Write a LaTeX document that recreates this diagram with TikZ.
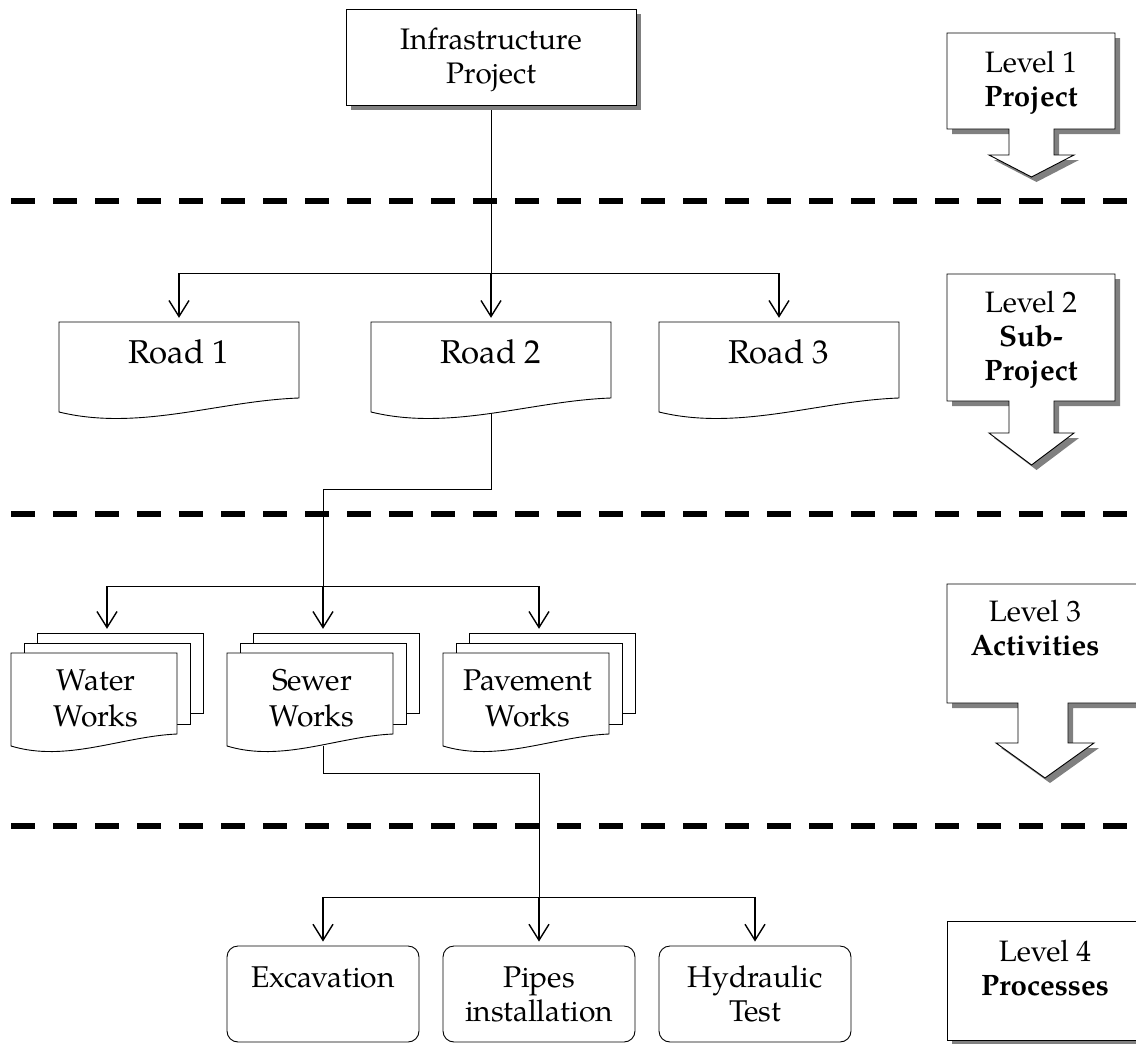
\documentclass[tikz,border=0pt]{standalone}
\usepackage{fontspec}
\setmainfont{texgyrepagella}[Extension=.otf, UprightFont=*-regular, BoldFont=*-bold, ItalicFont=*-italic, BoldItalicFont=*-bolditalic]
\usetikzlibrary{arrows.meta,shadows,fit,backgrounds}

% document sheet with a wavy lower edge; #5 is the bottom at the left side, #6 the wave rise
\newcommand\docshape[6]{%
  \node[fit={(#2,#3) (#4,#5)}, inner sep=0pt] (#1) {};
  \draw[outline, fill=white] (#2,#3) -- (#4,#3) -- (#4,{#5-#6})
    .. controls ({#2+2*(#4-#2)/3},{#5-0.8*#6}) and ({#2+(#4-#2)/3},{#5+1.4*#6}) .. (#2,#5) -- cycle;}

% stack of three sheets; #2,#3 front sheet top left, #4 front sheet bottom at the left side
\newcommand\stackshape[4]{%
  \node[fit={(#2,{#3-20}) ({#2+192},#4)}, inner sep=0pt] (#1) {};
  \draw[outline, fill=white] ({#2+26},{#3-20}) rectangle ({#2+192},{#3+60});
  \draw[outline, fill=white] ({#2+13},{#3-10}) rectangle ({#2+179},{#3+71});
  \draw[outline, fill=white] (#2,#3) -- ({#2+166},#3) -- ({#2+166},{#4-12})
    .. controls ({#2+110.7},{#4-9.6}) and ({#2+55.3},{#4+16.8}) .. (#2,#4) -- cycle;}

\begin{document}
\begin{tikzpicture}[x=1pt, y=-1pt,
  outline/.style={draw=black, line width=0.9pt, line join=miter},
  shade/.style={drop shadow={shadow xshift=5pt, shadow yshift=-5pt, fill=black!50, opacity=1}},
  box/.style={outline, fill=white, rectangle, inner sep=0pt},
  pbox/.style={outline, fill=white, rectangle, rounded corners=11pt, inner sep=0pt,
    minimum width=192, minimum height=96},
  conn/.style={line width=0.9pt},
  arr/.style={line width=1.5pt, shorten >=4pt,
    -{Straight Barb[length=16pt, width=20pt, line width=1.4pt]}},
  sep/.style={line width=6pt, dash pattern=on 24pt off 18pt},
  txt/.style={anchor=base, align=center, inner sep=0pt},
  big/.style={font=\fontsize{29.7}{34}\selectfont},
  road/.style={font=\fontsize{33}{36}\selectfont},
  work/.style={font=\fontsize{30}{36}\selectfont},
  proc/.style={font=\fontsize{30}{34}\selectfont},
  lvl/.style={font=\fontsize{29.5}{34}\selectfont},
]
\useasboundingbox (0,0) rectangle (1136,1044);
\clip (0,0) rectangle (1136,1044);

% level separators
\draw[sep] (11,201) -- (1127,201);
\draw[sep] (11,514) -- (1127,514);
\draw[sep] (11,826) -- (1127,826);

% level 1: project (text nodes are placed by the baseline of their last line)
\node[box, shade, minimum width=290, minimum height=96] (top) at (491,57) {};
\node[txt, big] (top-t) at (491,83) {Infrastructure\\Project};

% level 2: roads
\docshape{road1}{59}{322}{299}{412}{14}
\docshape{road2}{371}{322}{611}{412}{14}
\docshape{road3}{659}{322}{899}{412}{14}
\node[txt, road] (road1-t) at (179,363) {Road 1};
\node[txt, road] (road2-t) at (491,363) {Road 2};
\node[txt, road] (road3-t) at (779,363) {Road 3};

% level 3: activities
\stackshape{water}{11}{653}{746}
\stackshape{sewer}{227}{653}{746}
\stackshape{pave}{443}{653}{746}
\node[txt, work] (water-t) at (96,726) {Water\\Works};
\node[txt, work] (sewer-t) at (312,726) {Sewer\\Works};
\node[txt, work] (pave-t) at (528,726) {Pavement\\Works};

% level 4: processes
\node[pbox] (exc) at (323,994) {};
\node[pbox] (pipes) at (539,994) {};
\node[pbox] (hyd) at (755,994) {};
\node[txt, proc] (exc-t) at (323,987) {Excavation};
\node[txt, proc] (pipes-t) at (539,1021) {Pipes\\installation};
\node[txt, proc] (hyd-t) at (755,1021) {Hydraulic\\Test};

% connectors
\begin{pgfonlayer}{background}
  \coordinate (bus1) at (491,273);
  \draw[conn] (top.south) -- (top.south |- bus1);
  \draw[conn] (road1.north |- bus1) -- (road3.north |- bus1);
  \foreach \n in {road1,road2,road3}
    \draw[arr] (\n.north |- bus1) -- (\n.north);

  \coordinate (elbow2) at (323,489);
  \coordinate (bus2) at (323,586);
  \draw[conn] (road2.south) |- (sewer.north |- elbow2) -- (sewer.north |- bus2);
  \draw[conn] (water.north |- bus2) -- (pave.north |- bus2);
  \foreach \n in {water,sewer,pave}
    \draw[arr] (\n.north |- bus2) -- (\n.north);

  \coordinate (elbow3) at (539,773);
  \coordinate (bus3) at (539,897);
  \draw[conn] (sewer.south) |- (pipes.north |- elbow3) -- (pipes.north |- bus3);
  \draw[conn] (exc.north |- bus3) -- (hyd.north |- bus3);
  \foreach \n in {exc,pipes,hyd}
    \draw[arr] (\n.north |- bus3) -- (\n.north);
\end{pgfonlayer}

% level markers on the right
\draw[box, shade] (947,33) -- (1115,33) -- (1115,129) -- (1054,129) -- (1054,155) -- (1074,155)
  -- (1031.5,177) -- (989,155) -- (1009,155) -- (1009,129) -- (947,129) -- cycle;
\node[txt, lvl] (lv1) at (1031,106) {Level 1\\\textbf{Project}};

\draw[box, shade] (947,274) -- (1115,274) -- (1115,401) -- (1054,401) -- (1054,433) -- (1074,433)
  -- (1031.5,465) -- (989,433) -- (1009,433) -- (1009,401) -- (947,401) -- cycle;
\node[txt, lvl] (lv2) at (1031,380) {Level 2\\\textbf{Sub-}\\\textbf{Project}};

\draw[box, shade] (947,584) -- (1140,584) -- (1140,703) -- (1068,703) -- (1068,743) -- (1094,743)
  -- (1045,778) -- (996,743) -- (1018,743) -- (1018,703) -- (947,703) -- cycle;
\node[txt, lvl] (lv3) at (1035,655) {Level 3\\\textbf{Activities}};

\node[box, shade, minimum width=194, minimum height=119] (lv4box) at (1044,980.5) {};
\node[txt, lvl] (lv4) at (1045,995) {Level 4\\\textbf{Processes}};
\end{tikzpicture}
\end{document}
